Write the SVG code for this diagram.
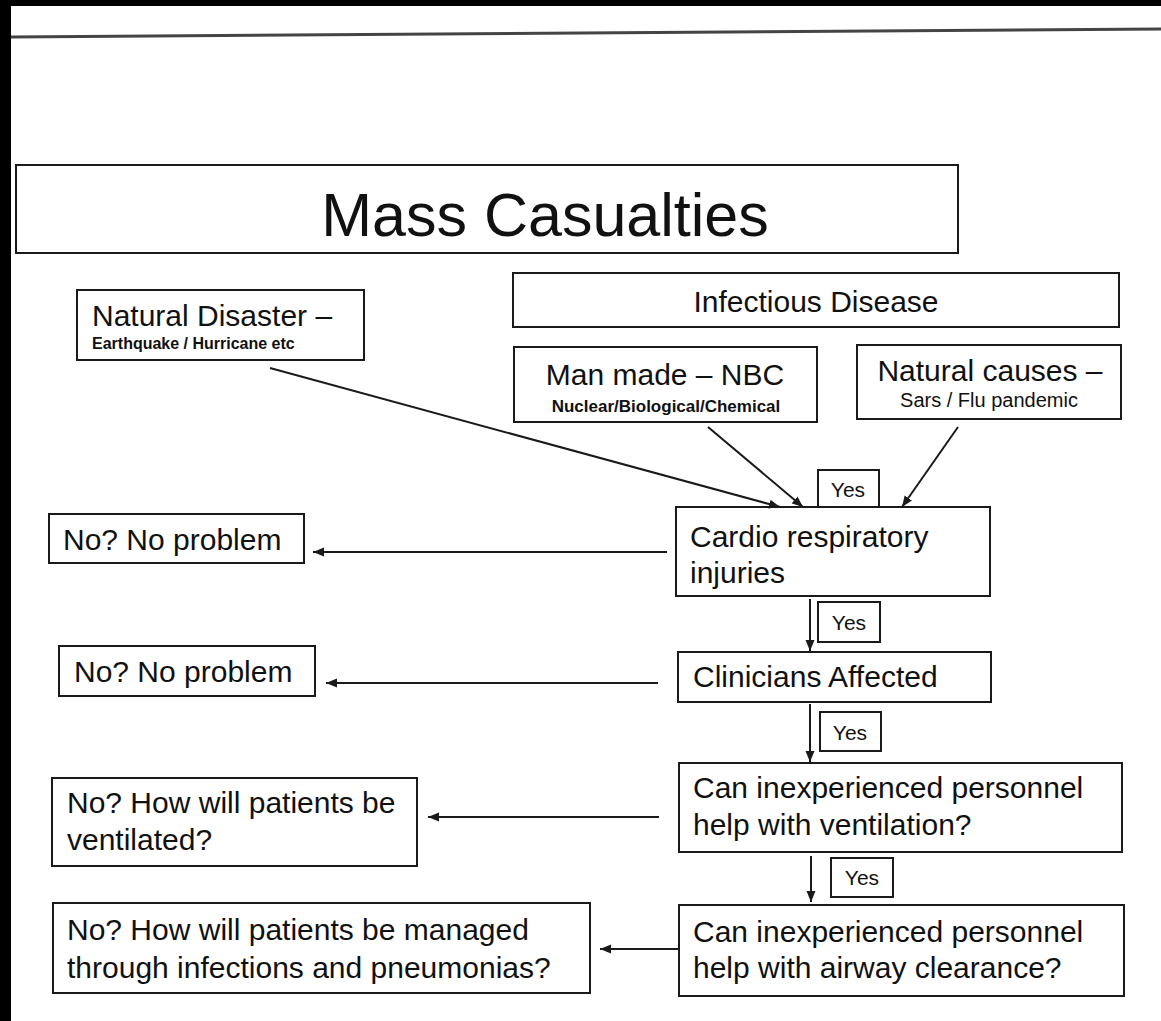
<svg xmlns="http://www.w3.org/2000/svg" width="1161" height="1021" viewBox="0 0 1161 1021">
<defs>
<style>
.box{fill:#fff;stroke:#1a1a1a;stroke-width:2}
.t{font-family:"Liberation Sans",Arial,sans-serif;fill:#111}
.m{font-size:30px}
.s{font-size:16px;font-weight:bold}
.y{font-size:21px}
.c{stroke:#1a1a1a;stroke-width:2;fill:none;marker-end:url(#ah)}
</style>
<marker id="ah" markerWidth="12" markerHeight="10" refX="11" refY="5" orient="auto" markerUnits="userSpaceOnUse">
<path d="M0,0.5 L11,5 L0,9.5 Z" fill="#1a1a1a"/>
</marker>
</defs>
<rect width="1161" height="1021" fill="#fff"/>
<rect x="0" y="0" width="1161" height="6" fill="#000"/>
<rect x="0" y="0" width="11" height="1021" fill="#000"/>
<line x1="11" y1="37" x2="1161" y2="29" stroke="#444" stroke-width="3"/>

<g id="title">
<rect class="box" x="16" y="165" width="942" height="88"/>
<text class="t" x="545" y="236" font-size="61" text-anchor="middle">Mass Casualties</text>
</g>
<g id="natural-disaster">
<rect class="box" x="77" y="290" width="287" height="70"/>
<text class="t m" x="92" y="326">Natural Disaster –</text>
<text class="t s" x="92" y="349">Earthquake / Hurricane etc</text>
</g>
<g id="infectious-disease">
<rect class="box" x="513" y="273" width="606" height="54"/>
<text class="t m" x="816" y="312" text-anchor="middle">Infectious Disease</text>
</g>
<g id="man-made">
<rect class="box" x="514" y="347" width="303" height="75"/>
<text class="t m" x="665" y="385" text-anchor="middle">Man made – NBC</text>
<text class="t" x="666" y="412" font-size="17" font-weight="bold" text-anchor="middle">Nuclear/Biological/Chemical</text>
</g>
<g id="natural-causes">
<rect class="box" x="857" y="345" width="264" height="74"/>
<text class="t m" x="990" y="381" text-anchor="middle">Natural causes –</text>
<text class="t" x="989" y="407" font-size="20" text-anchor="middle">Sars / Flu pandemic</text>
</g>
<g id="cardio">
<rect class="box" x="676" y="507" width="314" height="89"/>
<text class="t m" x="690" y="547">Cardio respiratory</text>
<text class="t m" x="690" y="583">injuries</text>
</g>
<g id="no1">
<rect class="box" x="49" y="514" width="255" height="49"/>
<text class="t m" x="63" y="550">No? No problem</text>
</g>
<g id="clinicians">
<rect class="box" x="678" y="652" width="313" height="50"/>
<text class="t m" x="693" y="687">Clinicians Affected</text>
</g>
<g id="no2">
<rect class="box" x="59" y="646" width="256" height="50"/>
<text class="t m" x="74" y="682">No? No problem</text>
</g>
<g id="can1">
<rect class="box" x="679" y="763" width="443" height="89"/>
<text class="t m" x="693" y="798">Can inexperienced personnel</text>
<text class="t m" x="693" y="835">help with ventilation?</text>
</g>
<g id="no3">
<rect class="box" x="52" y="778" width="365" height="88"/>
<text class="t m" x="67" y="813">No? How will patients be</text>
<text class="t m" x="67" y="850">ventilated?</text>
</g>
<g id="can2">
<rect class="box" x="679" y="905" width="445" height="91"/>
<text class="t m" x="693" y="942">Can inexperienced personnel</text>
<text class="t m" x="693" y="978">help with airway clearance?</text>
</g>
<g id="no4">
<rect class="box" x="53" y="903" width="537" height="90"/>
<text class="t m" x="67" y="940">No? How will patients be managed</text>
<text class="t m" x="67" y="978">through infections and pneumonias?</text>
</g>
<g id="yes1">
<rect class="box" x="818" y="470" width="61" height="37"/>
<text class="t y" x="848" y="497" text-anchor="middle">Yes</text>
</g>
<g id="yes2">
<rect class="box" x="818" y="602" width="62" height="40"/>
<text class="t y" x="849" y="630" text-anchor="middle">Yes</text>
</g>
<g id="yes3">
<rect class="box" x="820" y="712" width="61" height="39"/>
<text class="t y" x="850" y="740" text-anchor="middle">Yes</text>
</g>
<g id="yes4">
<rect class="box" x="831" y="858" width="62" height="39"/>
<text class="t y" x="862" y="885" text-anchor="middle">Yes</text>
</g>

<g id="connectors">
<line class="c" x1="270" y1="368" x2="780" y2="507"/>
<line class="c" x1="708" y1="427" x2="803" y2="507"/>
<line class="c" x1="958" y1="427" x2="902" y2="507"/>
<line class="c" x1="667" y1="552" x2="313" y2="552"/>
<line class="c" x1="810" y1="599" x2="810" y2="651"/>
<line class="c" x1="658" y1="683" x2="326" y2="683"/>
<line class="c" x1="810" y1="704" x2="810" y2="762"/>
<line class="c" x1="659" y1="817" x2="428" y2="817"/>
<line class="c" x1="811" y1="856" x2="811" y2="902"/>
<line class="c" x1="678" y1="949" x2="600" y2="949"/>
</g>
</svg>
